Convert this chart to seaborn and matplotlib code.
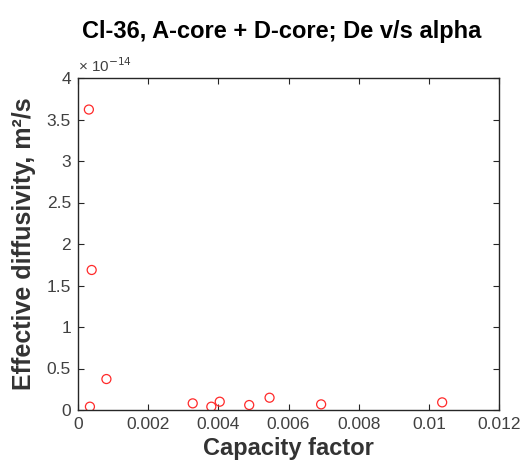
import matplotlib
matplotlib.use("Agg")
import matplotlib.pyplot as plt
import seaborn as sns
import pandas as pd
from matplotlib.ticker import FuncFormatter

# Data (effective diffusivity in units of 1e-14 m^2/s)
capacity_factor = [0.00031, 0.00039, 0.00034, 0.00081, 0.00327, 0.00380,
                   0.00404, 0.00488, 0.00546, 0.00693, 0.01038]
de_e14 = [3.62, 1.687, 0.04, 0.373, 0.08, 0.04, 0.10, 0.06, 0.148, 0.068, 0.092]
x_ticks = [0, 0.002, 0.004, 0.006, 0.008, 0.01, 0.012]
y_ticks = [0, 0.5, 1, 1.5, 2, 2.5, 3, 3.5, 4]

df = pd.DataFrame({"alpha": capacity_factor, "De": de_e14})

sns.set_theme(style="white")
plt.rcParams['font.family'] = ['Liberation Sans', 'DejaVu Sans']
axcol = "#262626"

fig = plt.figure(figsize=(5.31, 4.63), dpi=100)
ax = fig.add_axes([78/531, 1-410/463, (499-78)/531, (410-78)/463])

sns.scatterplot(data=df, x="alpha", y="De", ax=ax, marker="o", s=42,
                facecolor="none", edgecolor="#ff2a2a", linewidth=0.9, legend=False)

ax.set_xlim(0, 0.012)
ax.set_ylim(0, 4)
ax.set_xticks(x_ticks)
ax.set_yticks(y_ticks)
ax.xaxis.set_major_formatter(FuncFormatter(lambda v, p: "%g" % v))
ax.yaxis.set_major_formatter(FuncFormatter(lambda v, p: "%g" % v))

for s in ax.spines.values():
    s.set_visible(True)
    s.set_color(axcol)
    s.set_linewidth(1.0)
ax.tick_params(axis="both", which="major", direction="in", length=4, width=0.8,
               colors=axcol, labelcolor="#404040", labelsize=12.5,
               top=True, right=True, bottom=True, left=True, pad=5)
ax.grid(False)

ax.set_xlabel("Capacity factor", fontsize=17, fontweight="bold", color="#333333", labelpad=3.5)
ax.set_ylabel("Effective diffusivity, m²/s", fontsize=18, fontweight="bold", color="#333333", labelpad=8)
ax.set_title("Cl-36, A-core + D-core; De v/s alpha", fontsize=17, fontweight="bold",
             color="black", pad=29, x=(282-78)/421)
ax.text(0.0, 1.01, "× 10$^{-14}$", transform=ax.transAxes, fontsize=11,
        color="#404040", ha="left", va="bottom")

fig.savefig("out.png", dpi=100, facecolor="white")
